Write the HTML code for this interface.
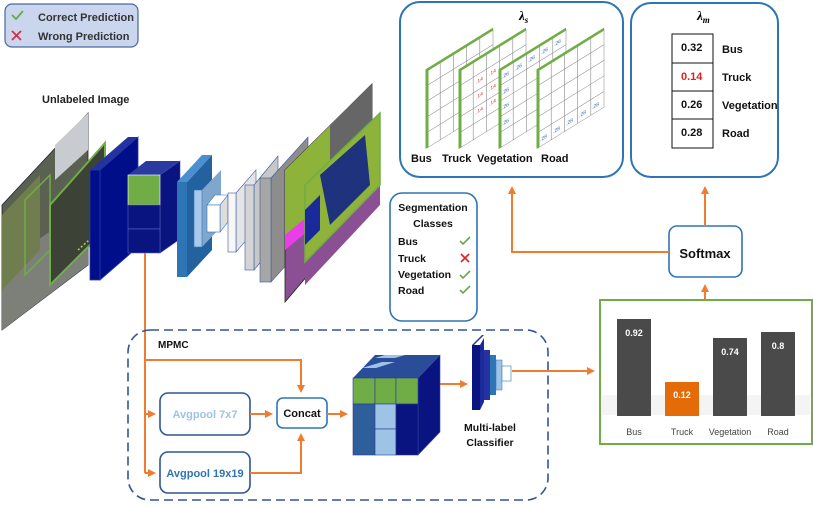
<!DOCTYPE html>
<html><head><meta charset="utf-8"><style>
html,body{margin:0;padding:0;background:#fff}
svg{display:block;font-family:"Liberation Sans",sans-serif}
</style></head><body>
<svg width="813" height="505" viewBox="0 0 813 505" xmlns="http://www.w3.org/2000/svg">
<defs>
<marker id="ah" markerWidth="8" markerHeight="8" refX="6" refY="4" orient="auto" markerUnits="userSpaceOnUse">
<path d="M0,0 L8,4 L0,8 Z" fill="#ed7d31"/></marker>
<g id="grid">
<rect x="0" y="0" width="66" height="78" fill="#fff" stroke="#999" stroke-width="0.6"/>
<path d="M13.2,0V78M26.4,0V78M39.6,0V78M52.8,0V78M0,15.6H66M0,31.2H66M0,46.8H66M0,62.4H66" stroke="#888" stroke-width="0.6" fill="none"/>
<path d="M0,78V0H66" stroke="#70ad47" stroke-width="3" fill="none"/>
</g>
</defs>

<!-- legend -->
<rect x="5" y="4" width="133" height="43" rx="7" fill="#c9d6ee" stroke="#4a6a9c" stroke-width="1.2"/>
<path d="M12,15 l4,4 l7,-8" stroke="#6aa84f" stroke-width="1.8" fill="none"/>
<text x="38" y="21" font-size="11" font-weight="bold" fill="#333">Correct Prediction</text>
<path d="M12,31 l9,9 M21,31 l-9,9" stroke="#d0314a" stroke-width="1.8"/>
<text x="38" y="40" font-size="11" font-weight="bold" fill="#333">Wrong Prediction</text>

<text x="42" y="103" font-size="11" font-weight="bold" fill="#222">Unlabeled Image</text>

<!-- photos -->
<polygon points="2,205 88,113 88,265 2,330" fill="#5a6150" stroke="#223" stroke-width="0.8"/>
<polygon points="2,265 88,205 88,265 2,330" fill="#7d8079"/>
<polygon points="2,215 40,175 40,250 2,290" fill="#6f7d4f"/>
<polygon points="55,145 88,113 88,150 55,180" fill="#c8ccd0"/>
<polygon points="50,205 105,143 105,230 50,285" fill="#3d4236"/>
<polygon points="50,205 105,143 105,230 50,285" fill="none" stroke="#70ad47" stroke-width="2"/>
<polygon points="25,200 50,175 50,250 25,275" fill="none" stroke="#70ad47" stroke-width="1.5"/>
<path d="M93,175 L128,184 M78,250 L128,205" stroke="#a4d65e" stroke-width="1.5" stroke-dasharray="2,2"/>

<!-- block1 -->
<polygon points="100,170 138,137 138,247 100,280" fill="#000e8a" stroke="#2a3aa8" stroke-width="0.8"/>
<rect x="90" y="170" width="10" height="110" fill="#000e8a" stroke="#2a3aa8" stroke-width="0.8"/>
<polygon points="90,170 128,137 138,137 100,170" fill="#2433a0"/>
<!-- cube -->
<polygon points="128,175 146,161 180,161 160,175" fill="#2a3aa0"/>
<polygon points="160,175 180,161 180,239 160,253" fill="#0a1480" stroke="#3b4bb0" stroke-width="0.6"/>
<rect x="128" y="175" width="32" height="30" fill="#70ad47" stroke="#fff" stroke-width="0.6"/>
<rect x="128" y="205" width="32" height="24" fill="#0a1480" stroke="#5565c0" stroke-width="0.6"/>
<rect x="128" y="229" width="32" height="24" fill="#0a1480" stroke="#5565c0" stroke-width="0.6"/>
<!-- blue blocks -->
<polygon points="187,182 212,155 212,250 187,277" fill="#24619f"/>
<rect x="177" y="182" width="10" height="95" fill="#2e75b6"/>
<polygon points="177,182 202,155 212,155 187,182" fill="#4a8fd0"/>
<polygon points="202,190 221,170 221,227 202,247" fill="#7fa6cc"/>
<rect x="194" y="190" width="8" height="57" fill="#a9c8ea" stroke="#2e75b6" stroke-width="0.6"/>
<polygon points="207,205 215,195 228,195 220,205" fill="#fff" stroke="#2e75b6" stroke-width="0.6"/>
<polygon points="220,205 228,195 228,222 220,232" fill="#ddd" stroke="#2e75b6" stroke-width="0.6"/>
<rect x="207" y="205" width="13" height="27" fill="#fff" stroke="#2e75b6" stroke-width="0.6"/>
<!-- grays -->
<polygon points="236,193 256,170 256,229 236,252" fill="#e4e4e4" stroke="#3a5a9a" stroke-width="0.6"/>
<rect x="228" y="193" width="8" height="59" fill="#f7f7f7" stroke="#3a5a9a" stroke-width="0.6"/>
<polygon points="254,185 278,156 278,241 254,270" fill="#c8c8c8" stroke="#3a5a9a" stroke-width="0.6"/>
<rect x="245" y="185" width="9" height="85" fill="#d4d4d4" stroke="#3a5a9a" stroke-width="0.6"/>
<polygon points="271,178 308,137 308,241 271,282" fill="#8d8d8d" stroke="#3a5a9a" stroke-width="0.6"/>
<rect x="260" y="178" width="11" height="104" fill="#a6a6a6" stroke="#3a5a9a" stroke-width="0.6"/>
<!-- seg maps -->
<polygon points="285,170 372,84 372,200 285,302" fill="#8b4f94" stroke="#222" stroke-width="0.8"/>
<polygon points="285,170 372,84 372,150 285,240" fill="#8db33a"/>
<polygon points="330,125 372,84 372,130 330,170" fill="#666"/>
<polygon points="285,235 315,210 315,225 285,250" fill="#e93fe6"/>
<polygon points="305,185 380,113 380,205 305,285" fill="#8b4f94"/>
<polygon points="305,185 380,113 380,185 305,262" fill="#8db33a" stroke="#70ad47" stroke-width="1.5"/>
<polygon points="320,175 365,135 370,185 330,225" fill="#0a1b8a" opacity="0.85"/>
<polygon points="305,210 320,195 320,230 305,245" fill="#1a2a9a"/>

<line x1="145" y1="253" x2="145" y2="473" stroke="#ed7d31" stroke-width="2"/>

<!-- lambda s box -->
<rect x="400" y="2" width="223" height="175" rx="20" fill="#fff" stroke="#2e75b6" stroke-width="2"/>
<text x="519" y="20" font-size="13" font-style="italic" font-weight="bold" font-family="Liberation Serif,serif">λ<tspan font-size="9" dy="3">s</tspan></text>
<use href="#grid" transform="translate(427,70) skewY(-31.8)"/>
<use href="#grid" transform="translate(460,70) skewY(-31.8)"/>
<use href="#grid" transform="translate(500,70) skewY(-31.8)"/>
<use href="#grid" transform="translate(538,70) skewY(-31.8)"/>
<g font-size="5" fill="#e03030" transform="translate(460,70) skewY(-31.8)">
<text x="16" y="24">.14</text><text x="29" y="24">.14</text><text x="16" y="39">.14</text><text x="29" y="39">.14</text><text x="16" y="54">.14</text><text x="29" y="54">.14</text></g>
<g font-size="5" fill="#3060c0" transform="translate(500,70) skewY(-31.8)">
<text x="2" y="10">.26</text><text x="15" y="10">.26</text><text x="28" y="10">.26</text><text x="41" y="10">.26</text><text x="54" y="10">.26</text>
<text x="2" y="26">.26</text><text x="2" y="41">.26</text><text x="2" y="57">.26</text></g>
<g font-size="5" fill="#3060c0" transform="translate(538,70) skewY(-31.8)">
<text x="2" y="73">.28</text><text x="15" y="73">.28</text><text x="28" y="73">.28</text><text x="41" y="73">.28</text><text x="54" y="73">.28</text></g>
<g font-size="11" font-weight="bold" fill="#111">
<text x="411" y="162">Bus</text><text x="442" y="162">Truck</text><text x="477" y="162">Vegetation</text><text x="541" y="162">Road</text></g>

<!-- lambda m box -->
<rect x="631" y="3" width="147" height="174" rx="20" fill="#fff" stroke="#2e75b6" stroke-width="2"/>
<text x="697" y="20" font-size="13" font-style="italic" font-weight="bold" font-family="Liberation Serif,serif">λ<tspan font-size="9" dy="3">m</tspan></text>
<g stroke="#111" stroke-width="1" fill="#fff">
<rect x="672" y="34" width="41" height="29"/><rect x="672" y="63" width="41" height="28"/><rect x="672" y="91" width="41" height="28"/><rect x="672" y="119" width="41" height="29"/></g>
<g font-size="11" font-weight="bold" fill="#111">
<text x="681" y="51">0.32</text><text x="681" y="80" fill="#e02020">0.14</text><text x="681" y="108">0.26</text><text x="681" y="136">0.28</text>
<text x="722" y="53">Bus</text><text x="722" y="81">Truck</text><text x="722" y="109">Vegetation</text><text x="722" y="137">Road</text></g>

<!-- seg classes -->
<rect x="390" y="193" width="87" height="128" rx="12" fill="#fff" stroke="#2e75b6" stroke-width="1.6"/>
<g font-size="10.5" font-weight="bold" fill="#111">
<text x="433" y="211" text-anchor="middle">Segmentation</text><text x="433" y="227" text-anchor="middle">Classes</text>
<text x="398" y="245">Bus</text><text x="398" y="262">Truck</text><text x="398" y="278">Vegetation</text><text x="398" y="294">Road</text></g>
<g stroke="#6aa84f" stroke-width="1.6" fill="none">
<path d="M460,241 l3,3 l7,-7"/><path d="M460,275 l3,3 l7,-7"/><path d="M460,290 l3,3 l7,-7"/></g>
<path d="M461,254 l8,8 M469,254 l-8,8" stroke="#e02020" stroke-width="1.6"/>

<!-- softmax -->
<rect x="669" y="226" width="73" height="51" rx="8" fill="#fff" stroke="#2e75b6" stroke-width="1.6"/>
<text x="705" y="258" font-size="13" font-weight="bold" text-anchor="middle" fill="#111">Softmax</text>
<g stroke="#ed7d31" stroke-width="2" fill="none">
<polyline points="669,252 512,252 512,188" marker-end="url(#ah)"/>
<line x1="705" y1="226" x2="705" y2="188" marker-end="url(#ah)"/>
<line x1="705" y1="300" x2="705" y2="286" marker-end="url(#ah)"/>
</g>

<!-- bar chart -->
<rect x="600" y="300" width="212" height="144" fill="#fff" stroke="#70ad47" stroke-width="2"/>
<rect x="602" y="395" width="208" height="20" fill="#f4f4f4"/>
<rect x="617" y="319" width="34" height="97" fill="#4a4a4a"/>
<rect x="665" y="382" width="34" height="34" fill="#e36c09"/>
<rect x="713" y="338" width="34" height="78" fill="#4a4a4a"/>
<rect x="761" y="332" width="34" height="84" fill="#4a4a4a"/>
<g font-size="9" font-weight="bold" fill="#fff" text-anchor="middle">
<text x="634" y="336">0.92</text><text x="682" y="398">0.12</text><text x="730" y="355">0.74</text><text x="778" y="349">0.8</text></g>
<g font-size="9" fill="#444" text-anchor="middle">
<text x="634" y="435">Bus</text><text x="682" y="435">Truck</text><text x="730" y="435">Vegetation</text><text x="778" y="435">Road</text></g>

<!-- MPMC -->
<rect x="128" y="330" width="420" height="170" rx="22" fill="none" stroke="#2f5597" stroke-width="1.6" stroke-dasharray="9,5"/>
<text x="158" y="348" font-size="10" font-weight="bold" fill="#111">MPMC</text>
<rect x="160" y="393" width="90" height="42" rx="8" fill="#fff" stroke="#2f5597" stroke-width="1.6"/>
<text x="205" y="418" font-size="11" font-weight="bold" text-anchor="middle" fill="#9dc3e6">Avgpool 7x7</text>
<rect x="160" y="452" width="90" height="41" rx="8" fill="#fff" stroke="#2f5597" stroke-width="1.6"/>
<text x="205" y="477" font-size="11" font-weight="bold" text-anchor="middle" fill="#2e75b6">Avgpool 19x19</text>
<rect x="277" y="398" width="50" height="30" rx="6" fill="#fff" stroke="#2e75b6" stroke-width="1.6"/>
<text x="302" y="417" font-size="11" font-weight="bold" text-anchor="middle" fill="#111">Concat</text>
<g stroke="#ed7d31" stroke-width="2" fill="none">
<polyline points="145,360 301,360 301,391" marker-end="url(#ah)"/>
<line x1="145" y1="414" x2="154" y2="414" marker-end="url(#ah)"/>
<line x1="145" y1="473" x2="154" y2="473" marker-end="url(#ah)"/>
<line x1="250" y1="414" x2="271" y2="414" marker-end="url(#ah)"/>
<polyline points="250,473 301,473 301,435" marker-end="url(#ah)"/>
<line x1="327" y1="414" x2="346" y2="414" marker-end="url(#ah)"/>
<line x1="440" y1="384" x2="466" y2="384" marker-end="url(#ah)"/>
<line x1="512" y1="371" x2="593" y2="371" marker-end="url(#ah)"/>
</g>
<!-- cube -->
<polygon points="353,378 375,355 440,355 418,378" fill="#2a4d9a"/>
<polygon points="362,368 382,362 395,362 376,368" fill="#9dc3e6"/>
<polygon points="375,358 395,358 405,355 385,355" fill="#9dc3e6"/>
<polygon points="418,378 440,355 440,432 418,455" fill="#0a1480" stroke="#3b4bb0" stroke-width="0.6"/>
<g stroke="#2a3a90" stroke-width="0.6">
<rect x="353" y="378" width="22" height="26" fill="#70ad47"/><rect x="375" y="378" width="21" height="26" fill="#70ad47"/><rect x="396" y="378" width="22" height="26" fill="#70ad47"/>
<rect x="353" y="404" width="22" height="51" fill="#2e5f9a"/><rect x="375" y="404" width="21" height="25" fill="#9dc3e6"/><rect x="375" y="429" width="21" height="26" fill="#9dc3e6"/>
<rect x="396" y="404" width="22" height="51" fill="#0a1480"/></g>
<!-- classifier -->
<polygon points="472,345 482,335 484,335 474,345" fill="#2433a0"/>
<rect x="472" y="345" width="8" height="65" fill="#0a1480"/>
<polygon points="480,345 484,338 484,402 480,410" fill="#1a2a9a"/>
<rect x="484" y="350" width="6" height="50" fill="#2433a0"/>
<rect x="490" y="355" width="6" height="40" fill="#2e75b6"/>
<rect x="496" y="360" width="6" height="30" fill="#9dc3e6" stroke="#2e75b6" stroke-width="0.5"/>
<rect x="502" y="366" width="9" height="15" fill="#fff" stroke="#2e75b6" stroke-width="0.6"/>
<text x="490" y="431" font-size="10.5" font-weight="bold" text-anchor="middle" fill="#111">Multi-label</text>
<text x="490" y="446" font-size="10.5" font-weight="bold" text-anchor="middle" fill="#111">Classifier</text>
</svg>
</body></html>
